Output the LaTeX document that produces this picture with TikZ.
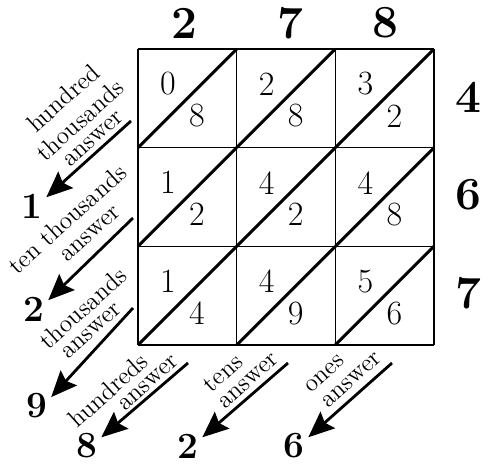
\documentclass[tikz,border=0pt]{standalone}
\usepackage{tikz}
\usetikzlibrary{arrows.meta}

\begin{document}
\begin{tikzpicture}[
  x=0.5pt, y=-0.5pt,
  grd/.style = {line width=0.65pt},
  dgl/.style = {line width=1.5pt},
  dig/.style = {font=\fontsize{17}{17}\selectfont, inner sep=0pt},
  big/.style = {font=\fontsize{23}{23}\selectfont\bfseries, inner sep=1.5pt},
  ans/.style = {font=\fontsize{18.5}{18.5}\selectfont\bfseries, inner sep=1pt},
  lbl/.style = {font=\fontsize{12.5}{12.5}\selectfont, rotate=42, inner sep=0pt},
  fl/.style  = {-{Stealth[length=13pt,width=11pt,inset=2pt]}, line width=1.4pt,
                shorten >=1pt},
]
\useasboundingbox (0,0) rectangle (490,464);

% ================= lattice =============================================
\def\cs{98.67}
\foreach \i in {0,...,3} {
  \draw[grd] (138+\i*\cs,49) -- (138+\i*\cs,49+3*\cs);
  \draw[grd] (138,49+\i*\cs) -- (138+3*\cs,49+\i*\cs);
}
\foreach \i in {0,1,2} {\foreach \j in {0,1,2} {
  \draw[dgl] (138+\i*\cs,49+\j*\cs+\cs) -- ++(\cs,-\cs);
}}

% partial products: column/row/tens/ones
\foreach \c/\r/\u/\l in {0/0/0/8, 1/0/2/8, 2/0/3/2,
                         0/1/1/2, 1/1/4/2, 2/1/4/8,
                         0/2/1/4, 1/2/4/9, 2/2/5/6} {
  \node[dig] (u\c\r) at (138+\c*\cs+30, 49+\r*\cs+35) {\u};
  \node[dig] (l\c\r) at (138+\c*\cs+59, 49+\r*\cs+67) {\l};
}

% factors
\foreach \c/\x/\d in {0/184/2, 1/290/7, 2/385/8} {\node[big] (top\c) at (\x,23) {\d};}
\foreach \r/\y/\d in {0/97/4, 1/195/6, 2/293/7}  {\node[big] (rgt\r) at (468,\y) {\d};}

% ================= answer digits =======================================
\node[ans] (a1) at (32,206)  {1};
\node[ans] (a2) at (34,309)  {2};
\node[ans] (a3) at (37,406)  {9};
\node[ans] (a4) at (87,446)  {8};
\node[ans] (a5) at (188,446) {2};
\node[ans] (a6) at (294,446) {6};

\coordinate (s1) at (131,121);
\coordinate (s2) at (133,218);
\coordinate (s3) at (133,308);
\coordinate (s4) at (188,363);
\coordinate (s5) at (288,363);
\coordinate (s6) at (392,363);

% place-value labels
\node[lbl] (h1a) at (63,98)   {hundred};
\node[lbl] (h1b) at (80,120)  {thousands};
\node[lbl] (h1c) at (94,139)  {answer};
\node[lbl] (h2a) at (67,219)  {ten thousands};
\node[lbl] (h2b) at (91,234)  {answer};
\node[lbl] (h3a) at (83,308)  {thousands};
\node[lbl] (h3b) at (92,331)  {answer};
\node[lbl] (h4a) at (108,390) {hundreds};
\node[lbl] (h4b) at (149,383) {answer};
\node[lbl] (h5a) at (223,373) {tens};
\node[lbl] (h5b) at (249,381) {answer};
\node[lbl] (h6a) at (325,374) {ones};
\node[lbl] (h6b) at (352,380) {answer};

% ================= arrows ==============================================
\draw[fl] (s1) -- (a1.30);
\draw[fl] (s2) -- (a2.30);
\draw[fl] (s3) -- (a3.30);
\draw[fl] (s4) -- (a4.30);
\draw[fl] (s5) -- (a5.30);
\draw[fl] (s6) -- (a6.30);

\end{tikzpicture}
\end{document}
